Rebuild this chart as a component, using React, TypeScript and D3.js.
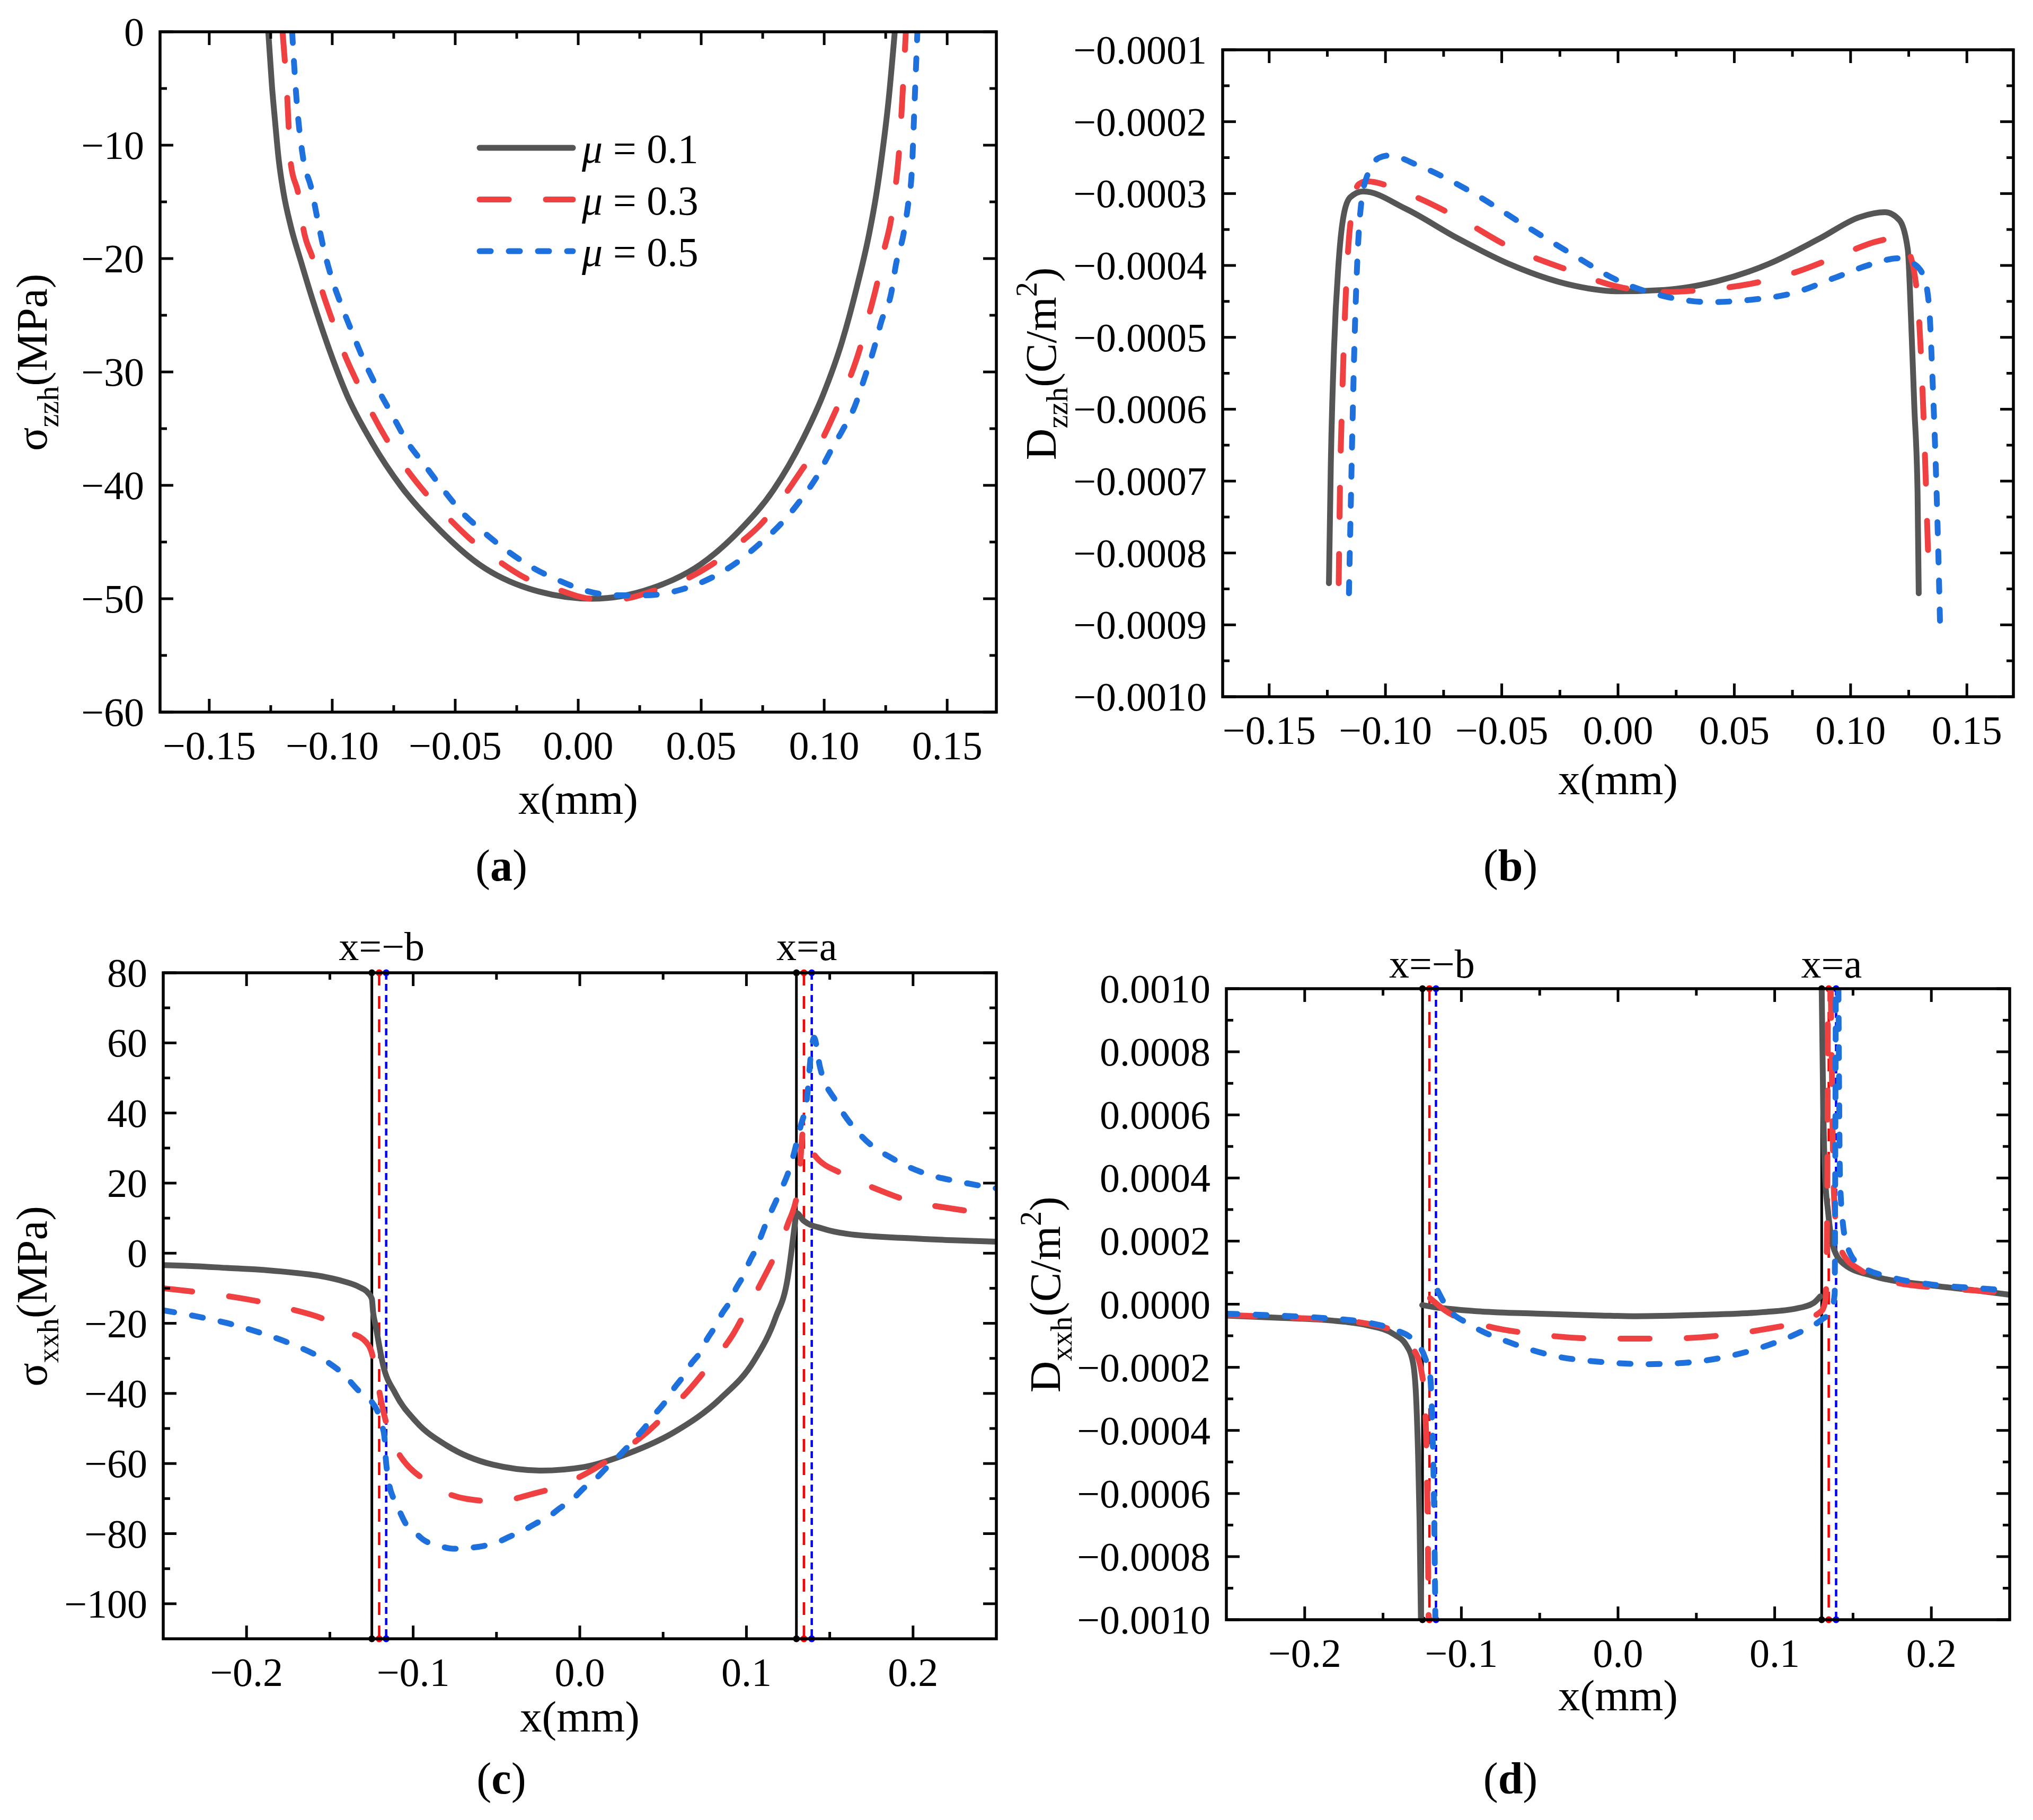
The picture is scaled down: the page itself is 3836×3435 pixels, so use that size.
import React from 'react';
import * as d3 from 'd3';

type Pt = [number, number];

// ---- shared ----
const muLabels = ['0.1', '0.3', '0.5'];
const curveColors = ['#555555', '#EF4141', '#1E71DC'];
const curveDash = [null, '55 70', '21 34'];
const edgeColors = ['#000000', '#FF0000', '#0000FF'];
const edgeDash = [null, '24 20', '13 8'];
const bEdge = [-0.1248, -0.1204, -0.1162];
const aEdge = [0.13, 0.1345, 0.1392];

// ---- ticks ----
const xTicksNarrow = [-0.15, -0.1, -0.05, 0, 0.05, 0.1, 0.15];
const xTicksWide = [-0.2, -0.1, 0, 0.1, 0.2];
const yTicksA = [0, -10, -20, -30, -40, -50, -60];
const yTicksB = [-0.0001, -0.0002, -0.0003, -0.0004, -0.0005, -0.0006, -0.0007, -0.0008, -0.0009, -0.001];
const yTicksC = [80, 60, 40, 20, 0, -20, -40, -60, -80, -100];
const yTicksD = [0.001, 0.0008, 0.0006, 0.0004, 0.0002, 0, -0.0002, -0.0004, -0.0006, -0.0008, -0.001];

// ---- (a) sigma_zzh ----
const szz01: Pt[] = [[-0.126, 0], [-0.1245, -4.8], [-0.1232, -8], [-0.1218, -11.2], [-0.1198, -14.2], [-0.1168, -17.2], [-0.1128, -20.2], [-0.1079, -23.7], [-0.1019, -27.6], [-0.0939, -32.1], [-0.0839, -36.2], [-0.072, -40.1], [-0.056, -44], [-0.0401, -47], [-0.0202, -49.1], [0.0057, -50], [0.0296, -49.1], [0.0496, -47], [0.0655, -44], [0.0794, -40.4], [0.0914, -35.9], [0.0994, -32.1], [0.1073, -27.3], [0.1133, -22.5], [0.1183, -17.8], [0.1213, -14.2], [0.1233, -11.2], [0.1262, -6], [0.1287, 0]];
const szz03: Pt[] = [[-0.1202, 0], [-0.1185, -5], [-0.1168, -11.7], [-0.1138, -14.3], [-0.1118, -17.3], [-0.1079, -20], [-0.1039, -23], [-0.0999, -25.5], [-0.0949, -28.5], [-0.0899, -30.9], [-0.0839, -33.6], [-0.078, -35.9], [-0.07, -38.5], [-0.062, -40.7], [-0.0531, -42.8], [-0.0441, -44.7], [-0.0322, -46.7], [-0.0212, -48.2], [-0.0082, -49.2], [0.0057, -50], [0.0177, -50], [0.0306, -49.3], [0.0436, -48.3], [0.0535, -47.1], [0.0645, -45.3], [0.0735, -43.6], [0.0834, -41], [0.0904, -38.8], [0.0993, -35.9], [0.1043, -33.6], [0.1103, -30.6], [0.1143, -28.1], [0.1183, -24.9], [0.1213, -22.4], [0.1243, -19.3], [0.1273, -16.4], [0.1292, -13.3], [0.1302, -11.2], [0.132, -5], [0.1332, 0]];
const szz05: Pt[] = [[-0.1163, 0], [-0.1145, -6], [-0.1118, -11.2], [-0.1085, -13.8], [-0.1062, -16.3], [-0.1036, -19], [-0.1004, -21.6], [-0.0965, -24], [-0.0919, -26.5], [-0.0871, -29], [-0.0817, -31.4], [-0.0756, -33.8], [-0.0697, -36.1], [-0.0628, -38.1], [-0.0555, -40.2], [-0.048, -42.2], [-0.0391, -44], [-0.0287, -45.8], [-0.0182, -47.3], [-0.0077, -48.4], [0.0032, -49.3], [0.0152, -49.7], [0.0272, -49.7], [0.0401, -49.3], [0.0555, -48], [0.0645, -46.8], [0.0735, -45.2], [0.0824, -43.4], [0.0904, -41.3], [0.0974, -39.1], [0.1033, -36.7], [0.1073, -35.2], [0.1123, -33.1], [0.1163, -30.6], [0.1203, -27.9], [0.1233, -25.5], [0.1273, -23], [0.1292, -20.5], [0.1322, -17.9], [0.1342, -15.1], [0.1356, -12.4], [0.1368, -6], [0.1379, 0]];

// ---- (b) D_zzh ----
const dzz01: Pt[] = [[-0.1243, -0.000842], [-0.1235, -0.000677], [-0.1221, -0.000515], [-0.1201, -0.000394], [-0.1179, -0.000329], [-0.1151, -0.000305], [-0.1095, -0.000297], [-0.0914, -0.000321], [-0.0691, -0.000362], [-0.0468, -0.000398], [-0.0217, -0.000426], [0.0006, -0.000436], [0.0201, -0.000434], [0.0424, -0.000422], [0.0647, -0.000398], [0.087, -0.000362], [0.1037, -0.000333], [0.1148, -0.000326], [0.121, -0.000337], [0.1246, -0.000378], [0.126, -0.000475], [0.1274, -0.000596], [0.1288, -0.000717], [0.1293, -0.000856]];
const dzz03: Pt[] = [[-0.1201, -0.000842], [-0.1196, -0.000717], [-0.1187, -0.000596], [-0.1176, -0.000483], [-0.1162, -0.000386], [-0.1143, -0.000321], [-0.1115, -0.000287], [-0.1081, -0.000283], [-0.0914, -0.000299], [-0.0691, -0.000333], [-0.0468, -0.000374], [-0.0217, -0.000406], [0.0006, -0.00043], [0.0201, -0.000437], [0.0368, -0.000434], [0.0563, -0.000426], [0.0758, -0.00041], [0.0953, -0.000386], [0.112, -0.000366], [0.119, -0.000362], [0.1237, -0.000374], [0.1274, -0.00041], [0.1296, -0.000483], [0.131, -0.00058], [0.1321, -0.000677], [0.1329, -0.000758], [0.1338, -0.000846]];
const dzz05: Pt[] = [[-0.1157, -0.000856], [-0.1148, -0.000717], [-0.114, -0.000596], [-0.1131, -0.000483], [-0.112, -0.000386], [-0.1104, -0.000313], [-0.1076, -0.000273], [-0.1026, -0.00025], [-0.0984, -0.000247], [-0.0858, -0.000261], [-0.0635, -0.000297], [-0.0412, -0.000342], [-0.0189, -0.000386], [0.0006, -0.000422], [0.0201, -0.000443], [0.0396, -0.000451], [0.0563, -0.000448], [0.0758, -0.000438], [0.0925, -0.000418], [0.1093, -0.000398], [0.1204, -0.00039], [0.1274, -0.000398], [0.1316, -0.000417], [0.1338, -0.000459], [0.1352, -0.000556], [0.1366, -0.000677], [0.1377, -0.000798], [0.1385, -0.000903]];

// ---- (c) sigma_xxh ----
const sxx01: Pt[] = [[-0.25, -3.4], [-0.2313, -3.7], [-0.2119, -4.2], [-0.1924, -4.7], [-0.173, -5.5], [-0.1535, -6.7], [-0.1419, -8], [-0.1321, -9.7], [-0.1271, -11.3], [-0.1248, -13], [-0.124, -17], [-0.1226, -20.5], [-0.118, -32], [-0.1107, -40], [-0.098, -48.2], [-0.0797, -54.9], [-0.0523, -60.3], [-0.0231, -62], [0.0024, -61], [0.0298, -57], [0.0572, -50.9], [0.0845, -41.4], [0.1047, -30.6], [0.1174, -18.5], [0.1248, -7], [0.1284, 5.8], [0.1293, 9.2], [0.13, 11.5], [0.1343, 9.3], [0.146, 7], [0.1608, 5.5], [0.1966, 4.3], [0.2238, 3.7], [0.25, 3.3]];
const sxx03: Pt[] = [[-0.25, -10], [-0.2313, -11], [-0.2119, -12.2], [-0.1924, -13.8], [-0.173, -16], [-0.1535, -18.8], [-0.138, -22.6], [-0.1282, -25.4], [-0.1245, -29], [-0.1217, -36], [-0.1184, -44], [-0.1126, -53.6], [-0.0888, -66], [-0.0678, -70.1], [-0.0496, -70.8], [-0.0286, -68.7], [-0.0122, -66.4], [0.007, -62], [0.0216, -57.6], [0.039, -51.6], [0.0526, -45.5], [0.0672, -38.1], [0.0782, -31.7], [0.0919, -23.2], [0.1001, -16.1], [0.1101, -7.3], [0.1184, 0.7], [0.1246, 8], [0.1312, 19], [0.1343, 35.8], [0.1402, 28.4], [0.1577, 22.6], [0.1771, 18.5], [0.1966, 15.1], [0.2238, 12.7], [0.25, 11]];
const sxx05: Pt[] = [[-0.25, -16.3], [-0.2313, -17.9], [-0.2119, -19.9], [-0.1924, -22.6], [-0.173, -25.9], [-0.1535, -30.4], [-0.1419, -34.5], [-0.1321, -39.5], [-0.1254, -42.1], [-0.1217, -44.8], [-0.1184, -49.5], [-0.1171, -53.2], [-0.1166, -57.6], [-0.1158, -61.7], [-0.1144, -66], [-0.1117, -70.1], [-0.108, -73.8], [-0.1044, -77.2], [-0.0998, -79.2], [-0.0943, -81.6], [-0.0834, -83.6], [-0.0761, -84.3], [-0.0651, -84], [-0.0587, -83.6], [-0.0487, -82.3], [-0.0423, -80.9], [-0.0331, -78.9], [-0.0268, -77.2], [-0.0176, -74.8], [-0.0122, -72.8], [-0.004, -70.1], [0.0015, -67.4], [0.0097, -64.3], [0.0152, -61.6], [0.0225, -58.3], [0.028, -55.6], [0.0344, -52.2], [0.0399, -49.2], [0.0453, -45.8], [0.0508, -42.7], [0.0563, -38.7], [0.0618, -35.3], [0.0672, -31.3], [0.0718, -28.6], [0.0764, -24.5], [0.0809, -21.2], [0.0855, -17.1], [0.0901, -13.8], [0.0937, -10.1], [0.0983, -6.3], [0.1019, -2.3], [0.1056, 1.1], [0.1093, 5.5], [0.112, 8.8], [0.1188, 16], [0.1265, 25], [0.1324, 36], [0.1363, 44], [0.139, 58], [0.1406, 61.5], [0.1441, 53.2], [0.1538, 43.3], [0.1693, 33.3], [0.1888, 26.7], [0.2082, 22.6], [0.2277, 20.4], [0.25, 18.5]];

// ---- (d) D_xxh, split at the edges ----
const dxx01: Pt[][] = [
  [[-0.25, -3.6e-5], [-0.2177, -4.3e-5], [-0.1846, -5.1e-5], [-0.1598, -6.7e-5], [-0.1432, -9.5e-5], [-0.1349, -1.32e-4], [-0.1308, -1.87e-4], [-0.1287, -3.16e-4], [-0.1275, -5.0e-4], [-0.1267, -6.84e-4], [-0.1258, -1.0e-3]],
  [[-0.125, -2.8e-6], [-0.1184, -8.3e-6], [-0.0935, -2.1e-5], [-0.0522, -3.0e-5], [-0.0108, -3.6e-5], [0.0099, -3.8e-5], [0.0513, -3.4e-5], [0.0927, -2.5e-5], [0.1134, -1.4e-5], [0.125, 4.6e-6], [0.1291, 2.5e-5]],
  [[0.13, 1.0e-3], [0.1308, 6.96e-4], [0.132, 4.2e-4], [0.1341, 2.92e-4], [0.1374, 1.81e-4], [0.1445, 1.26e-4], [0.1631, 8.9e-5], [0.1962, 6.2e-5], [0.2293, 4.3e-5], [0.25, 3.0e-5]],
];
const dxx03: Pt[][] = [
  [[-0.25, -3.4e-5], [-0.2177, -4.1e-5], [-0.1846, -4.9e-5], [-0.1598, -6.2e-5], [-0.1432, -8.6e-5], [-0.1308, -1.41e-4], [-0.1258, -2.05e-4], [-0.1233, -3.16e-4], [-0.1221, -5.0e-4], [-0.1213, -7.75e-4], [-0.1209, -1.0e-3]],
  [[-0.12, 1.9e-5], [-0.1101, -2.1e-5], [-0.0853, -6.7e-5], [-0.0522, -9.5e-5], [-0.0108, -1.09e-4], [0.0306, -1.09e-4], [0.0637, -1.0e-4], [0.0927, -8.0e-5], [0.1134, -5.8e-5], [0.13, -2.1e-5], [0.1325, 1.6e-5], [0.1335, 3.0e-4], [0.134, 1.0e-3]],
  [[0.1358, 1.0e-3], [0.1366, 6.96e-4], [0.1374, 4.2e-4], [0.1391, 2.55e-4], [0.1432, 1.63e-4], [0.1548, 1.08e-4], [0.1755, 7.1e-5], [0.2045, 5.2e-5], [0.2293, 4.3e-5], [0.25, 3.4e-5]],
];
const dxx05: Pt[][] = [
  [[-0.25, -3.0e-5], [-0.2177, -3.6e-5], [-0.1846, -4.5e-5], [-0.1598, -5.8e-5], [-0.1432, -8.0e-5], [-0.1308, -1.13e-4], [-0.1233, -1.68e-4], [-0.12, -2.24e-4], [-0.1184, -4.07e-4], [-0.1173, -6.83e-4], [-0.1166, -1.0e-3]],
  [[-0.1151, 4.3e-5], [-0.1101, -2.8e-6], [-0.0935, -6.7e-5], [-0.0687, -1.22e-4], [-0.0397, -1.65e-4], [-0.0108, -1.83e-4], [0.0182, -1.9e-4], [0.0389, -1.87e-4], [0.0637, -1.72e-4], [0.0927, -1.35e-4], [0.1134, -9.5e-5], [0.13, -4.9e-5], [0.1362, -2.1e-5], [0.1383, 3.4e-5], [0.1387, 5.1e-4], [0.139, 1.0e-3]],
  [[0.1407, 1.0e-3], [0.1411, 6.96e-4], [0.1416, 4.2e-4], [0.1432, 2.73e-4], [0.1465, 1.81e-4], [0.1548, 1.22e-4], [0.1755, 8.4e-5], [0.2045, 6.0e-5], [0.2293, 5.1e-5], [0.25, 4.3e-5]],
];

const FONT = '"Liberation Serif", "Times New Roman", serif';

const fmt = (v: number, d: number) => {
  const s = (Math.abs(v) < 1e-12 ? 0 : v).toFixed(d);
  return s.replace('-', '\u2212');
};

const minors = (ticks: number[], dom: number[]) => {
  const step = ticks[1] - ticks[0];
  const lo = Math.min(dom[0], dom[1]);
  const hi = Math.max(dom[0], dom[1]);
  const eps = Math.abs(step) * 1e-3;
  return [ticks[0] - step / 2, ...ticks.map(t => t + step / 2)].filter(m => m > lo + eps && m < hi - eps);
};

// rotated axis title: head + subscript + unit (+ optional superscript and closing paren)
const axisTitle = (head: string, subText: string, unit: string, sup?: string) => (
  <>
    {head}
    <tspan fontSize={56} dy={22}>{subText}</tspan>
    <tspan dy={-22}>{unit}</tspan>
    {sup && <tspan fontSize={56} dy={-36}>{sup}</tspan>}
    {sup && <tspan dy={36}>)</tspan>}
  </>
);

type PanelProps = {
  id: string;
  left: number; right: number; top: number; bottom: number;
  xDomain: number[]; yDomain: number[];
  xTicks: number[]; yTicks: number[];
  xDigits: number; yDigits: number;
  series: Pt[][][];
  edges?: boolean; edgeLabelY?: number;
  xTitleY: number; yTitleX: number;
  yTitle: React.ReactNode;
  label: string; labelX: number; labelY: number;
  legend?: boolean;
};

const Panel = (p: PanelProps) => {
  const x = d3.scaleLinear().domain(p.xDomain).range([p.left, p.right]);
  const y = d3.scaleLinear().domain(p.yDomain).range([p.bottom, p.top]);
  const line = d3.line<Pt>().x(d => x(d[0])).y(d => y(d[1])).curve(d3.curveMonotoneX);
  const xMin = minors(p.xTicks, p.xDomain);
  const yMin = minors(p.yTicks, p.yDomain);
  const major = 25, minor = 13, tw = 5;
  const cx = (p.left + p.right) / 2;
  const cy = (p.top + p.bottom) / 2 - 18;

  return (
    <g>
      <defs>
        <clipPath id={`clip-${p.id}`}>
          <rect x={p.left} y={p.top} width={p.right - p.left} height={p.bottom - p.top} />
        </clipPath>
      </defs>

      {/* edge lines x=-b and x=a */}
      {p.edges && [bEdge, aEdge].map((arr, k) => (
        <g key={k}>
          {arr.map((v, i) => (
            <g key={i}>
              <line x1={x(v)} x2={x(v)} y1={p.top} y2={p.bottom} stroke={edgeColors[i]}
                strokeWidth={i === 0 ? 5 : 4.5} strokeDasharray={edgeDash[i] ?? undefined} />
              <circle cx={x(v)} cy={p.top} r={6.5} fill={edgeColors[i]} />
              <circle cx={x(v)} cy={p.bottom} r={6.5} fill={edgeColors[i]} />
            </g>
          ))}
        </g>
      ))}

      <g clipPath={`url(#clip-${p.id})`}>
        {p.series.map((segs, i) => (
          <g key={i}>
            {segs.map((seg, j) => (
              <path key={j} d={line(seg) ?? ''} fill="none" stroke={curveColors[i]} strokeWidth={11}
                strokeLinecap="round" strokeLinejoin="round" strokeDasharray={curveDash[i] ?? undefined} />
            ))}
          </g>
        ))}
      </g>

      {/* frame and inward ticks on all sides */}
      <rect x={p.left} y={p.top} width={p.right - p.left} height={p.bottom - p.top} fill="none" stroke="#000" strokeWidth={5.5} />
      {[...p.xTicks.map(t => [t, major]), ...xMin.map(t => [t, minor])].map(([t, len], i) => (
        <g key={`xt${i}`} stroke="#000" strokeWidth={tw}>
          <line x1={x(t)} x2={x(t)} y1={p.bottom} y2={p.bottom - len} />
          <line x1={x(t)} x2={x(t)} y1={p.top} y2={p.top + len} />
        </g>
      ))}
      {[...p.yTicks.map(t => [t, major]), ...yMin.map(t => [t, minor])].map(([t, len], i) => (
        <g key={`yt${i}`} stroke="#000" strokeWidth={tw}>
          <line x1={p.left} x2={p.left + len} y1={y(t)} y2={y(t)} />
          <line x1={p.right} x2={p.right - len} y1={y(t)} y2={y(t)} />
        </g>
      ))}

      <g fontFamily={FONT} fontSize={76} fill="#000">
        {p.xTicks.map((t, i) => (
          <text key={i} x={x(t)} y={p.bottom + 89} textAnchor="middle">{fmt(t, p.xDigits)}</text>
        ))}
        {p.yTicks.map((t, i) => (
          <text key={i} x={p.left - 30} y={y(t) + 26} textAnchor="end">{fmt(t, p.yDigits)}</text>
        ))}
      </g>

      <g fontFamily={FONT} fill="#000">
        <text x={cx} y={p.xTitleY} fontSize={83} textAnchor="middle">x(mm)</text>
        <text transform={`translate(${p.yTitleX},${cy}) rotate(-90)`} fontSize={83} textAnchor="middle">{p.yTitle}</text>
        <text x={p.labelX} y={p.labelY} fontSize={84} textAnchor="middle">
          (<tspan fontWeight="bold">{p.label}</tspan>)
        </text>
        {p.edges && (
          <g fontSize={76} textAnchor="middle">
            <text x={(x(bEdge[0]) + x(bEdge[2])) / 2 + 5} y={p.edgeLabelY}>x=−b</text>
            <text x={(x(aEdge[0]) + x(aEdge[2])) / 2 + 5} y={p.edgeLabelY}>x=a</text>
          </g>
        )}
      </g>

      {p.legend && (
        <g fontFamily={FONT} fontSize={78}>
          {muLabels.map((m, i) => {
            const ly = 279 + i * 97.5;
            return (
              <g key={i}>
                <line x1={905} x2={1081} y1={ly} y2={ly} stroke={curveColors[i]} strokeWidth={11}
                  strokeLinecap="round" strokeDasharray={curveDash[i] ?? undefined} />
                <text x={1098} y={ly + 28}><tspan fontStyle="italic">μ</tspan> = {m}</text>
              </g>
            );
          })}
        </g>
      )}
    </g>
  );
};

const App = () => {
  const W = 3836, H = 3435;
  return (
    <svg width={W} height={H} viewBox={`0 0 ${W} ${H}`} style={{ position: 'absolute', left: 0, top: 0, background: '#fff' }}>
      <rect width={W} height={H} fill="#fff" />
      <Panel id="a" left={302} right={1880} top={60} bottom={1344}
        xDomain={[-0.17, 0.17]} yDomain={[-60, 0]} xTicks={xTicksNarrow} yTicks={yTicksA} xDigits={2} yDigits={0}
        series={[[szz01], [szz03], [szz05]]}
        xTitleY={1536} yTitleX={88}
        yTitle={axisTitle('σ', 'zzh', '(MPa)')}
        label="a" labelX={946} labelY={1662} legend />
      <Panel id="b" left={2307} right={3799} top={94} bottom={1315}
        xDomain={[-0.17, 0.17]} yDomain={[-0.001, -0.0001]} xTicks={xTicksNarrow} yTicks={yTicksB} xDigits={2} yDigits={4}
        series={[[dzz01], [dzz03], [dzz05]]}
        xTitleY={1499} yTitleX={1992}
        yTitle={axisTitle('D', 'zzh', '(C/m', '2')}
        label="b" labelX={2850} labelY={1662} />
      <Panel id="c" left={308} right={1880} top={1836} bottom={3093}
        xDomain={[-0.25, 0.25]} yDomain={[-110, 80]} xTicks={xTicksWide} yTicks={yTicksC} xDigits={1} yDigits={0}
        series={[[sxx01], [sxx03], [sxx05]]} edges edgeLabelY={1812}
        xTitleY={3268} yTitleX={88}
        yTitle={axisTitle('σ', 'xxh', '(MPa)')}
        label="c" labelX={946} labelY={3385} />
      <Panel id="d" left={2314} right={3792} top={1866} bottom={3057}
        xDomain={[-0.25, 0.25]} yDomain={[-0.001, 0.001]} xTicks={xTicksWide} yTicks={yTicksD} xDigits={1} yDigits={4}
        series={[dxx01, dxx03, dxx05]} edges edgeLabelY={1845}
        xTitleY={3228} yTitleX={2000}
        yTitle={axisTitle('D', 'xxh', '(C/m', '2')}
        label="d" labelX={2850} labelY={3385} />
    </svg>
  );
};

export default App;
